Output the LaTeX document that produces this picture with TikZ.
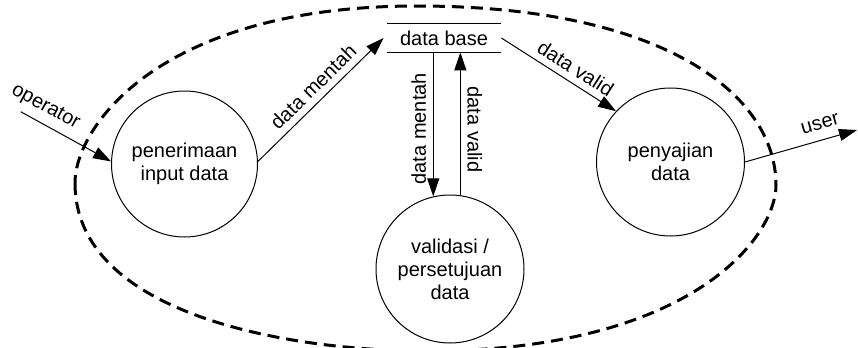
\documentclass[tikz,border=0pt]{standalone}
\usepackage{fontspec}
\setmainfont{Liberation Sans}
\usetikzlibrary{arrows.meta}
\begin{document}
\begin{tikzpicture}[x=0.5pt,y=-0.5pt,
  proc/.style={circle,draw,line width=0.5pt,inner sep=0pt,align=center,font=\fontsize{10}{11.5}\selectfont},
  flow/.style={line width=0.5pt,-{Triangle[length=9pt,width=6pt]}},
  lbl/.style={font=\fontsize{10}{12}\selectfont},
  boundary/.style={line width=1.5pt,dash pattern=on 6pt off 3.5pt}]
\useasboundingbox (0,0) rectangle (858,348);
% system boundary
\draw[boundary] (75,183) .. controls (75,315) and (290,351) .. (427,351)
  .. controls (690,351) and (776,238) .. (776,185)
  .. controls (776,96) and (666,6) .. (417,6)
  .. controls (161,6) and (75,126) .. (75,183);
% processes
\node[proc,minimum size=73pt] (c1) at (184.5,164) {penerimaan\\input data};
\node[proc,minimum size=74pt] (c2) at (450,269) {validasi /\\persetujuan\\data};
\node[proc,minimum size=74pt] (c3) at (670.5,162) {penyajian\\data};
% data store
\node[lbl,minimum width=57pt,minimum height=14pt,inner sep=0pt] (db) at (444,38) {data base};
\draw[line width=0.5pt] (db.north west) -- (db.north east);
\draw[line width=0.5pt] (db.south west) -- (db.south east);
% external ends
\coordinate (op) at (20.7,111.7);
\coordinate (us) at (857,130);
% flows
\draw[flow] (op) -- node[lbl,pos=0.19,sloped,above] (l1) {operator} (c1.178);
\draw[flow] (c1.2) -- node[lbl,pos=0.52,sloped,above] (l2) {data mentah} ([xshift=-1.5pt]db.west);
\draw[flow] (c2.103 |- db.south) -- node[lbl,pos=0.53,rotate=90,anchor=south] (l3) {data mentah} (c2.103);
\draw[flow] (c2.82) -- node[lbl,pos=0.46,rotate=-90,anchor=south] (l4) {data valid} (c2.82 |- db.south);
\draw[flow] (db.east) -- node[lbl,pos=0.58,sloped,above] (l5) {data valid} (c3.137);
\draw[flow] (c3.east) -- node[lbl,pos=0.71,sloped,above=1.5pt] (l6) {user} (us);
\end{tikzpicture}
\end{document}
